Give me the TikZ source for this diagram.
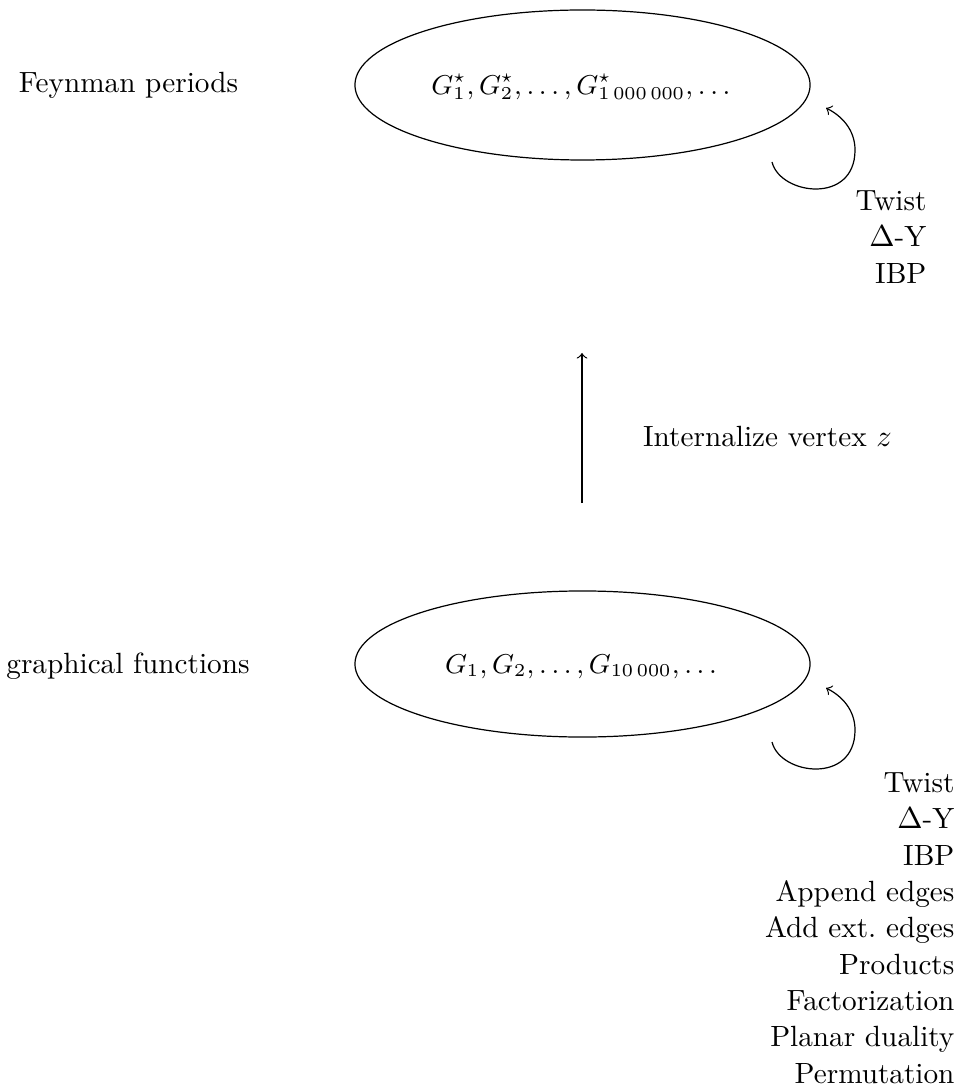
\documentclass[tikz,border=0pt]{standalone}
\usetikzlibrary{shapes.geometric}
\begin{document}
\begin{tikzpicture}[x=0.33pt,y=-0.33pt,
  every node/.style={font=\fontsize{9.65}{12}\selectfont},
  oval/.style={draw,ellipse,inner sep=0pt,minimum width=150.2pt},
  lbl/.style={inner sep=0pt},
  mathlbl/.style={inner sep=0pt,font=\fontsize{9.12}{11}\selectfont},
  ops/.style={inner sep=0pt,align=right,anchor=north east},
  loopline/.style={->}]
\useasboundingbox (0,0) rectangle (959,1086);
% top
\node[oval,minimum height=49.5pt] (top) at (582.5,85) {};
\node[mathlbl] (toptext) at (581,87) {$G_1^\star,G_2^\star,\ldots,G^\star_{1\,000\,000},\ldots$};
\node[lbl,anchor=base] (fey) at (128.5,93) {Feynman periods};
\coordinate (tl1) at (772,162);
\coordinate (tl2) at (855,150);
\coordinate (tl3) at (826,108);
\draw[loopline] (tl1) .. controls (780,195) and (855,205) .. (tl2) .. controls (855,130) and (842,116) .. (tl3);
\node[ops] (topops) at (927,190) {Twist\\$\Delta$-Y\\IBP};
% arrow
\coordinate (a1) at (582,503);
\coordinate (a2) at (582,353);
\draw[->] (a1) -- (a2);
\node[lbl] (intl) at (767.5,437) {Internalize vertex $z$};
% bottom
\node[oval,minimum height=48.2pt] (bot) at (582.5,664) {};
\node[mathlbl] (bottext) at (581,667) {$G_1,G_2,\ldots,G_{10\,000},\ldots$};
\node[lbl,anchor=base] (gf) at (128,673) {graphical functions};
\coordinate (bl1) at (772,742);
\coordinate (bl2) at (855,730);
\coordinate (bl3) at (826,688);
\draw[loopline] (bl1) .. controls (780,775) and (855,785) .. (bl2) .. controls (855,710) and (842,696) .. (bl3);
\node[ops] (botops) at (955,772) {Twist\\$\Delta$-Y\\IBP\\Append edges\\Add ext.\ edges\\Products\\Factorization\\Planar duality\\Permutation};
\end{tikzpicture}
\end{document}
